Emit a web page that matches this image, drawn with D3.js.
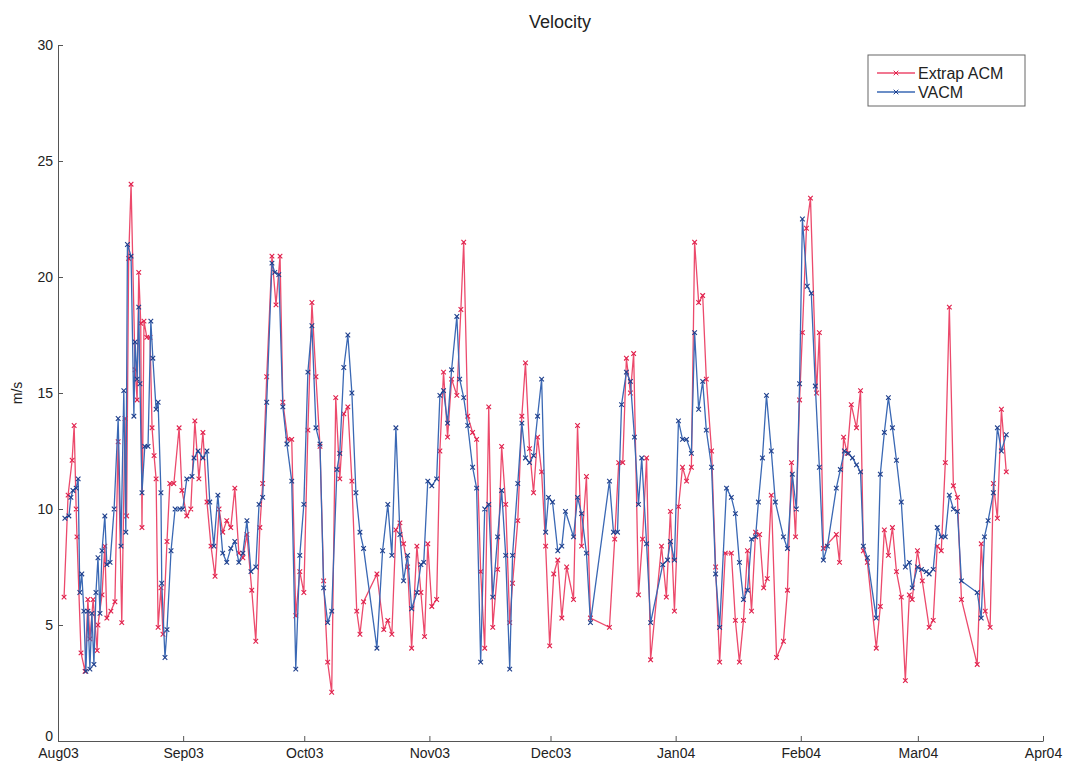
<!DOCTYPE html>
<html>
<head>
<meta charset="utf-8">
<script src="https://cdn.jsdelivr.net/npm/d3@7/dist/d3.min.js"></script>
<style>
  body { margin: 0; background: #fff; }
  svg text { font-family: "Liberation Sans", Arial, Helvetica, sans-serif; fill: #222; }
</style>
</head>
<body>
<svg id="chart" width="1072" height="771"></svg>
<script>
// days since 1 Aug 2003
var redDay = [1.5,2.5,3.5,4.0,4.5,4.7,5.7,6.7,7.4,7.9,8.7,9.7,9.9,10.9,11.6,12.1,13.1,14.1,14.9,15.8,16.6,17.0,17.5,18.1,19.1,19.6,20.0,20.5,20.8,21.3,22.0,22.8,23.3,23.8,24.3,24.8,25.5,26.0,27.0,27.7,28.7,30.0,30.7,31.9,
  32.9,33.9,34.9,35.9,36.9,37.9,38.9,39.9,40.8,41.8,42.8,43.8,44.8,45.8,46.8,48.0,49.0,50.0,50.7,51.7,53.0,54.0,55.0,55.7,56.9,57.9,58.9,59.9,60.9,61.9,62.9,63.9,64.9,65.8,66.8,67.8,68.8,69.8,70.8,71.8,72.8,74.0,74.8,75.7,
  79.0,80.7,81.7,82.7,83.7,84.7,85.6,86.6,87.6,88.9,89.9,90.8,91.6,92.6,93.8,94.6,95.5,96.5,97.5,98.8,99.8,100.5,101.5,102.7,103.7,104.7,105.7,106.7,107.7,108.9,109.9,110.9,111.9,112.6,113.9,114.9,115.8,116.8,117.8,118.8,119.8,
  120.8,121.8,122.8,123.8,124.8,126.0,127.7,128.7,129.7,130.9,131.9,136.6,137.9,138.9,139.9,140.8,141.8,142.6,143.8,144.8,145.8,146.8,149.5,150.7,151.7,152.7,153.7,154.7,155.7,156.9,157.7,158.7,159.7,160.6,161.9,162.9,163.9,
  165.3,166.8,167.8,168.8,169.8,170.8,171.8,172.8,173.8,174.8,175.7,176.7,178.0,179.7,180.7,181.7,182.7,183.7,184.4,185.4,186.4,187.9,188.6,189.6,192.8,193.6,194.6,195.5,196.5,197.8,198.8,199.5,200.5,202.7,203.7,204.7,205.7,
  206.7,207.7,208.9,209.9,210.9,211.6,212.9,214.1,215.8,216.8,217.8,218.8,219.8,220.8,221.8,222.8,223.8,227.7,228.7,229.7,230.9,231.7,232.7,233.7,234.9];
var redVal = [6.2,10.6,12.1,13.6,10.0,8.8,3.8,3.0,6.1,4.4,6.1,3.9,5.0,6.3,8.4,5.3,5.6,6.0,12.9,5.1,13.9,9.7,20.8,24.0,16.0,14.7,20.2,18.0,9.2,18.1,17.4,17.4,13.5,12.3,11.3,4.9,6.6,4.6,8.6,11.1,11.1,13.5,10.8,9.7,
  10.0,13.8,11.3,13.3,10.3,8.4,7.1,10.0,9.0,9.5,9.2,10.9,8.1,7.9,8.9,6.5,4.3,9.2,11.1,15.7,20.9,18.8,20.9,14.6,13.0,13.0,5.4,7.3,6.4,13.4,18.9,15.7,12.7,6.9,3.4,2.1,14.8,11.3,14.1,14.4,11.2,5.6,4.6,6.0,
  7.2,4.8,5.2,4.6,9.1,9.4,8.5,7.5,4.0,8.4,6.4,4.5,8.5,5.8,6.1,12.5,15.9,13.1,15.6,14.9,18.6,21.5,14.0,13.3,13.0,7.3,4.0,14.4,4.9,7.4,12.7,10.2,5.1,6.8,9.5,14.0,16.3,12.6,10.7,13.1,11.6,
  8.4,4.1,7.2,7.8,5.3,7.5,6.1,13.6,8.4,11.4,5.3,4.9,8.7,12.0,12.0,16.5,15.0,16.7,6.3,8.7,12.2,3.5,8.4,6.2,9.9,5.6,10.1,11.8,11.2,11.8,21.5,18.9,19.2,15.6,12.5,7.5,3.4,
  8.1,8.1,5.2,3.4,5.2,8.2,5.6,9.0,8.9,6.6,7.0,10.6,3.6,4.3,6.5,12.0,8.8,14.7,17.6,22.1,23.4,15.0,17.6,8.3,8.9,7.7,13.1,12.4,14.5,13.5,15.1,8.2,7.7,4.0,5.8,9.1,8.0,
  9.2,7.3,6.2,2.6,6.3,6.1,8.2,6.9,4.9,5.2,8.4,8.2,12.0,18.7,11.0,10.5,6.1,3.3,8.5,5.6,4.9,11.1,9.6,14.3,11.6];

var blueDay = [1.7,2.7,3.2,3.7,4.5,5.0,5.4,5.9,6.4,6.9,7.4,7.9,8.4,8.9,9.4,9.9,10.4,10.9,11.6,12.1,12.9,13.9,14.9,15.6,16.3,16.8,17.2,18.1,18.8,19.1,19.6,20.0,20.3,20.8,21.5,22.3,23.0,23.5,24.3,24.8,25.5,25.7,26.5,27.0,28.0,29.0,30.2,30.9,31.9,
  33.2,33.7,34.7,35.9,36.9,37.6,38.6,39.6,40.8,41.8,42.8,43.8,44.8,45.8,46.8,47.8,49.0,49.8,50.7,51.7,53.0,53.7,54.7,55.7,56.7,57.9,58.9,59.9,60.9,61.9,62.9,63.9,64.9,65.8,66.8,67.8,69.1,69.8,70.8,71.8,72.8,73.8,74.8,75.7,
  79.0,80.4,81.7,82.7,83.7,84.7,85.6,86.6,87.6,88.9,89.9,90.6,91.6,92.6,93.8,94.6,95.5,96.5,97.5,98.8,99.5,100.5,101.5,102.7,103.7,104.7,105.7,106.7,107.7,108.9,109.9,110.9,111.9,112.6,113.9,114.9,115.8,116.8,117.8,118.8,119.8,
  120.8,121.5,122.5,123.8,124.8,125.7,127.7,128.7,129.7,130.9,131.9,136.6,137.6,138.6,139.6,140.8,141.8,142.8,143.8,144.6,145.8,146.8,149.8,151.0,151.7,152.7,153.7,154.7,155.7,156.9,157.7,158.7,159.7,160.6,161.9,162.9,163.9,
  165.6,166.8,167.8,168.8,169.8,170.8,171.8,172.8,173.5,174.5,175.5,176.7,177.7,179.7,180.7,181.9,182.9,183.7,184.4,185.6,186.6,187.6,188.6,189.6,190.6,192.8,193.8,194.8,195.8,196.8,197.8,198.8,199.5,200.5,202.7,203.7,204.7,
  205.7,206.7,207.7,208.9,209.9,210.9,211.6,212.9,213.9,215.1,215.8,216.8,217.8,218.8,219.8,220.8,221.8,222.8,223.8,227.7,228.7,229.5,230.4,231.7,232.7,233.7,234.9];
var blueVal = [9.6,9.7,10.5,10.8,10.9,11.3,6.4,7.2,5.6,3.0,5.6,3.1,5.5,3.3,6.4,7.9,5.5,8.2,9.7,7.6,7.7,10.0,13.9,8.4,15.1,9.0,21.4,20.9,14.0,17.2,15.6,18.7,15.4,10.7,12.7,12.7,18.1,16.5,14.3,14.6,10.7,6.8,3.6,4.8,8.2,10.0,10.0,10.0,11.3,
  11.4,12.2,12.5,12.2,12.5,10.3,8.4,10.6,8.1,7.7,8.3,8.6,7.7,8.1,9.5,7.3,7.5,10.2,10.5,14.6,20.6,20.2,20.1,14.4,12.8,11.2,3.1,8.0,10.2,15.9,17.9,13.5,12.8,6.6,5.1,5.6,11.7,12.4,16.1,17.5,15.0,10.7,9.0,8.3,
  4.0,8.2,10.2,8.0,13.5,8.9,6.9,8.0,5.7,6.4,7.6,7.7,11.2,11.0,11.3,14.9,15.1,13.7,16.0,18.3,15.6,14.8,13.6,11.8,10.9,3.4,10.0,10.2,6.2,8.8,10.8,8.0,3.1,8.0,11.1,13.7,12.2,12.0,12.3,14.0,15.6,
  9.0,10.5,10.3,8.2,8.4,9.9,8.8,10.5,9.8,8.1,5.1,11.2,9.0,9.0,14.5,15.9,15.5,13.1,10.2,12.2,8.5,5.1,7.6,7.8,8.6,7.8,13.8,13.0,13.0,12.4,17.6,14.3,15.5,13.4,11.8,7.2,4.9,
  10.9,10.5,9.8,7.7,6.1,6.5,8.7,8.8,10.3,12.2,14.9,12.5,10.3,8.8,8.3,11.5,10.0,15.4,22.5,19.6,19.3,15.3,11.8,7.8,8.4,10.9,11.7,12.5,12.4,12.2,11.9,11.6,8.4,7.9,5.3,11.5,13.3,
  14.8,13.5,12.1,10.3,7.5,7.7,6.6,7.5,7.4,7.3,7.2,7.4,9.2,8.8,8.8,10.6,10.0,9.9,6.9,6.4,5.3,8.8,9.5,10.7,13.5,12.5,13.2];

var seriesNames = ["Extrap ACM", "VACM"];
var seriesColors = ["#ec4a6c", "#3a68b4"];
var markerColors = ["#e0204c", "#1f3f8c"];
var yTicks = [0, 5, 10, 15, 20, 25, 30];

var start = new Date(2003, 7, 1);
var end = new Date(2004, 3, 1);
function toDate(d) { return new Date(start.getTime() + d * 86400000); }

var svg = d3.select("#chart");
var x = d3.scaleTime().domain([start, end]).range([58, 1043]);
var y = d3.scaleLinear().domain([0, 30]).range([741, 45]);

// axes, ticks pointing inward like matlab
var xAxis = d3.axisBottom(x)
    .ticks(d3.timeMonth.every(1))
    .tickFormat(d3.timeFormat("%b%y"))
    .tickSizeInner(-5).tickSizeOuter(0).tickPadding(7);
var yAxis = d3.axisLeft(y)
    .tickValues(yTicks)
    .tickSizeInner(-5).tickSizeOuter(0).tickPadding(5);

var gx = svg.append("g").attr("transform", "translate(0,741)").call(xAxis);
var gy = svg.append("g").attr("transform", "translate(58,0)").call(yAxis);
[gx, gy].forEach(function (g) {
    g.selectAll("path, line").attr("stroke", "#555").attr("stroke-width", 1);
    g.selectAll("text").style("font-size", "14px").attr("fill", "#333");
});
// lift the "0" a little so it sits above "Aug03"
gy.selectAll(".tick").filter(function (d) { return d === 0; })
    .select("text").attr("dy", "-0.05em");

svg.append("text")
    .attr("x", 560).attr("y", 28)
    .attr("text-anchor", "middle")
    .style("font-size", "18px")
    .text("Velocity");

svg.append("text")
    .attr("transform", "translate(22,393) rotate(-90)")
    .attr("text-anchor", "middle")
    .style("font-size", "14px")
    .text("m/s");

var series = [
    redDay.map(function (d, i) { return { date: toDate(d), v: redVal[i] }; }),
    blueDay.map(function (d, i) { return { date: toDate(d), v: blueVal[i] }; })
];

var line = d3.line().x(function (d) { return x(d.date); }).y(function (d) { return y(d.v); });
var cross = "M-2.3,-2.3L2.3,2.3M-2.3,2.3L2.3,-2.3";

series.forEach(function (data, k) {
    var g = svg.append("g");
    g.append("path")
        .datum(data)
        .attr("fill", "none")
        .attr("stroke", seriesColors[k])
        .attr("stroke-width", 1.3)
        .attr("d", line);
    g.selectAll("path.mk")
        .data(data)
        .enter().append("path")
        .attr("class", "mk")
        .attr("transform", function (d) { return "translate(" + x(d.date) + "," + y(d.v) + ")"; })
        .attr("d", cross)
        .attr("stroke", markerColors[k])
        .attr("stroke-width", 1.1);
});

// legend
var lg = svg.append("g").attr("transform", "translate(868,55)");
lg.append("rect")
    .attr("width", 157).attr("height", 51)
    .attr("fill", "#fff").attr("stroke", "#666").attr("stroke-width", 1);
seriesNames.forEach(function (name, k) {
    var yy = 18 + k * 19;
    lg.append("line").attr("x1", 9).attr("x2", 47).attr("y1", yy).attr("y2", yy)
        .attr("stroke", seriesColors[k]).attr("stroke-width", 1.3);
    lg.append("path").attr("transform", "translate(28," + yy + ")").attr("d", cross)
        .attr("stroke", markerColors[k]);
    lg.append("text").attr("x", 50).attr("y", yy + 6)
        .style("font-size", "16px").text(name);
});
</script>
</body>
</html>
